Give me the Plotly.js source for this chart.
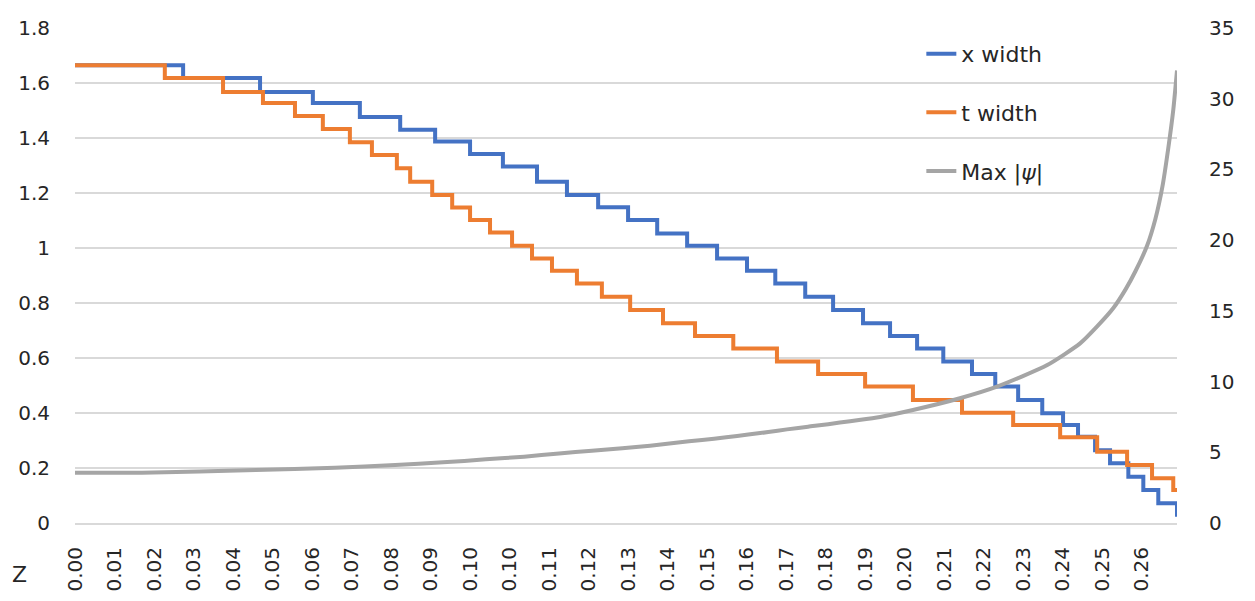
<!DOCTYPE html>
<html>
<head>
<meta charset="utf-8">
<script src="https://cdn.plot.ly/plotly-3.0.1.min.js"></script>
<style>html,body{margin:0;padding:0;background:#fff;}#chart{width:1255px;height:601px;}</style>
</head>
<body>
<div id="chart"></div>
<script>
// Category tick labels of the Z axis (one every tickStep in z)
const zTickLabels = ["0.00","0.01","0.02","0.03","0.04","0.05","0.06","0.07","0.08","0.09",
  "0.10","0.10","0.11","0.12","0.13","0.14","0.15","0.16","0.17","0.18",
  "0.19","0.20","0.21","0.22","0.23","0.24","0.25","0.26"];
const tickStep = 0.0095;
const zMax = 0.2650;

// x width: z where each step level starts, and the level
const zBlue = [0, 0.0260, 0.0445, 0.0572, 0.0685, 0.0782, 0.0866, 0.0950, 0.1029, 0.1111,
  0.1183, 0.1258, 0.1330, 0.1400, 0.1472, 0.1544, 0.1616, 0.1684, 0.1756, 0.1823,
  0.1895, 0.1960, 0.2025, 0.2088, 0.2157, 0.2213, 0.2268, 0.2326, 0.2376, 0.2412,
  0.2453, 0.2489, 0.2533, 0.2569, 0.2605, 0.2650];
const xWidth = [1.665, 1.618, 1.567, 1.527, 1.476, 1.430, 1.387, 1.342, 1.296, 1.241,
  1.193, 1.148, 1.102, 1.053, 1.008, 0.962, 0.917, 0.871, 0.823, 0.775,
  0.726, 0.680, 0.635, 0.587, 0.542, 0.496, 0.447, 0.399, 0.356, 0.314,
  0.265, 0.217, 0.168, 0.120, 0.072, 0.023];

// t width
const zOrange = [0, 0.0216, 0.0356, 0.0452, 0.0529, 0.0596, 0.0661, 0.0714, 0.0774, 0.0806,
  0.0859, 0.0907, 0.0950, 0.0998, 0.1051, 0.1099, 0.1147, 0.1207, 0.1267, 0.1335,
  0.1414, 0.1491, 0.1583, 0.1688, 0.1787, 0.1900, 0.2015, 0.2133, 0.2256, 0.2369,
  0.2458, 0.2530, 0.2590, 0.2641, 0.2650];
const tWidth = [1.665, 1.618, 1.567, 1.527, 1.480, 1.433, 1.385, 1.338, 1.290, 1.241,
  1.193, 1.147, 1.102, 1.056, 1.008, 0.962, 0.917, 0.871, 0.823, 0.775,
  0.726, 0.680, 0.635, 0.587, 0.542, 0.496, 0.447, 0.401, 0.356, 0.312,
  0.259, 0.211, 0.163, 0.120, 0.120];

// Max |psi| (right axis)
const zPsi = [0, 0.0161, 0.0435, 0.0625, 0.0770, 0.0885, 0.0988, 0.1080, 0.1164, 0.1243,
  0.1316, 0.1383, 0.1445, 0.1508, 0.1566, 0.1619, 0.1667, 0.1712, 0.1763, 0.1936,
  0.2015, 0.2128, 0.2217, 0.2338, 0.2417, 0.2458, 0.2497, 0.2526, 0.2550, 0.2578,
  0.2598, 0.2615, 0.2629, 0.2641, 0.2650];
const maxPsi = [3.56, 3.56, 3.75, 3.91, 4.10, 4.29, 4.50, 4.69, 4.92, 5.11,
  5.28, 5.47, 5.68, 5.87, 6.06, 6.25, 6.43, 6.62, 6.81, 7.50,
  7.99, 8.82, 9.64, 11.17, 12.70, 13.90, 15.20, 16.50, 17.80, 19.60,
  21.50, 23.80, 26.50, 29.20, 32.00];

const FONT = "DejaVu Sans, Liberation Sans, sans-serif";
const tickVals = zTickLabels.map((_, i) => i * tickStep);

const traces = [
  {x: zBlue, y: xWidth, name: "x width", type: "scatter", mode: "lines",
   line: {color: "#4472C4", width: 4, shape: "hv"}, legendgroup: "a"},
  {x: zOrange, y: tWidth, name: "t width", type: "scatter", mode: "lines",
   line: {color: "#ED7D31", width: 4, shape: "hv"}, legendgroup: "b"},
  {x: zPsi, y: maxPsi, name: "Max |<i>ψ</i>|", type: "scatter", mode: "lines", yaxis: "y2",
   line: {color: "#A5A5A5", width: 4, shape: "spline", smoothing: 0.6}, legendgroup: "c"}
];

const layout = {
  width: 1255, height: 601,
  margin: {l: 75, r: 78, t: 28, b: 78},
  paper_bgcolor: "#fff", plot_bgcolor: "#fff",
  font: {family: FONT, color: "#262626", size: 20},
  showlegend: true,
  legend: {x: 0.768, y: 0.99, xanchor: "left", yanchor: "top", bgcolor: "rgba(0,0,0,0)",
           traceorder: "grouped", tracegroupgap: 27, font: {size: 22, family: FONT}},
  xaxis: {range: [0, zMax], tickmode: "array", tickvals: tickVals, ticktext: zTickLabels,
          tickangle: -90, showgrid: false, zeroline: false, showline: true, linecolor: "#D9D9D9",
          linewidth: 2, ticks: "", ticklabelstandoff: 14, tickfont: {size: 20}},
  yaxis: {range: [0, 1.8], dtick: 0.2, tick0: 0, showgrid: true, gridcolor: "#D9D9D9", gridwidth: 2,
          zeroline: false, showline: false, ticks: "", ticklabelstandoff: 24, tickfont: {size: 20}},
  yaxis2: {range: [0, 35], dtick: 5, tick0: 0, overlaying: "y", side: "right", showgrid: false,
           zeroline: false, showline: false, ticks: "", ticklabelstandoff: 31, tickfont: {size: 20}},
  annotations: [
    {text: "Z", xref: "paper", yref: "paper", x: -0.05, y: -0.105, showarrow: false,
     font: {size: 22, family: FONT}, xanchor: "center", yanchor: "middle"}
  ]
};

Plotly.newPlot("chart", traces, layout, {staticPlot: true});
</script>
</body>
</html>
